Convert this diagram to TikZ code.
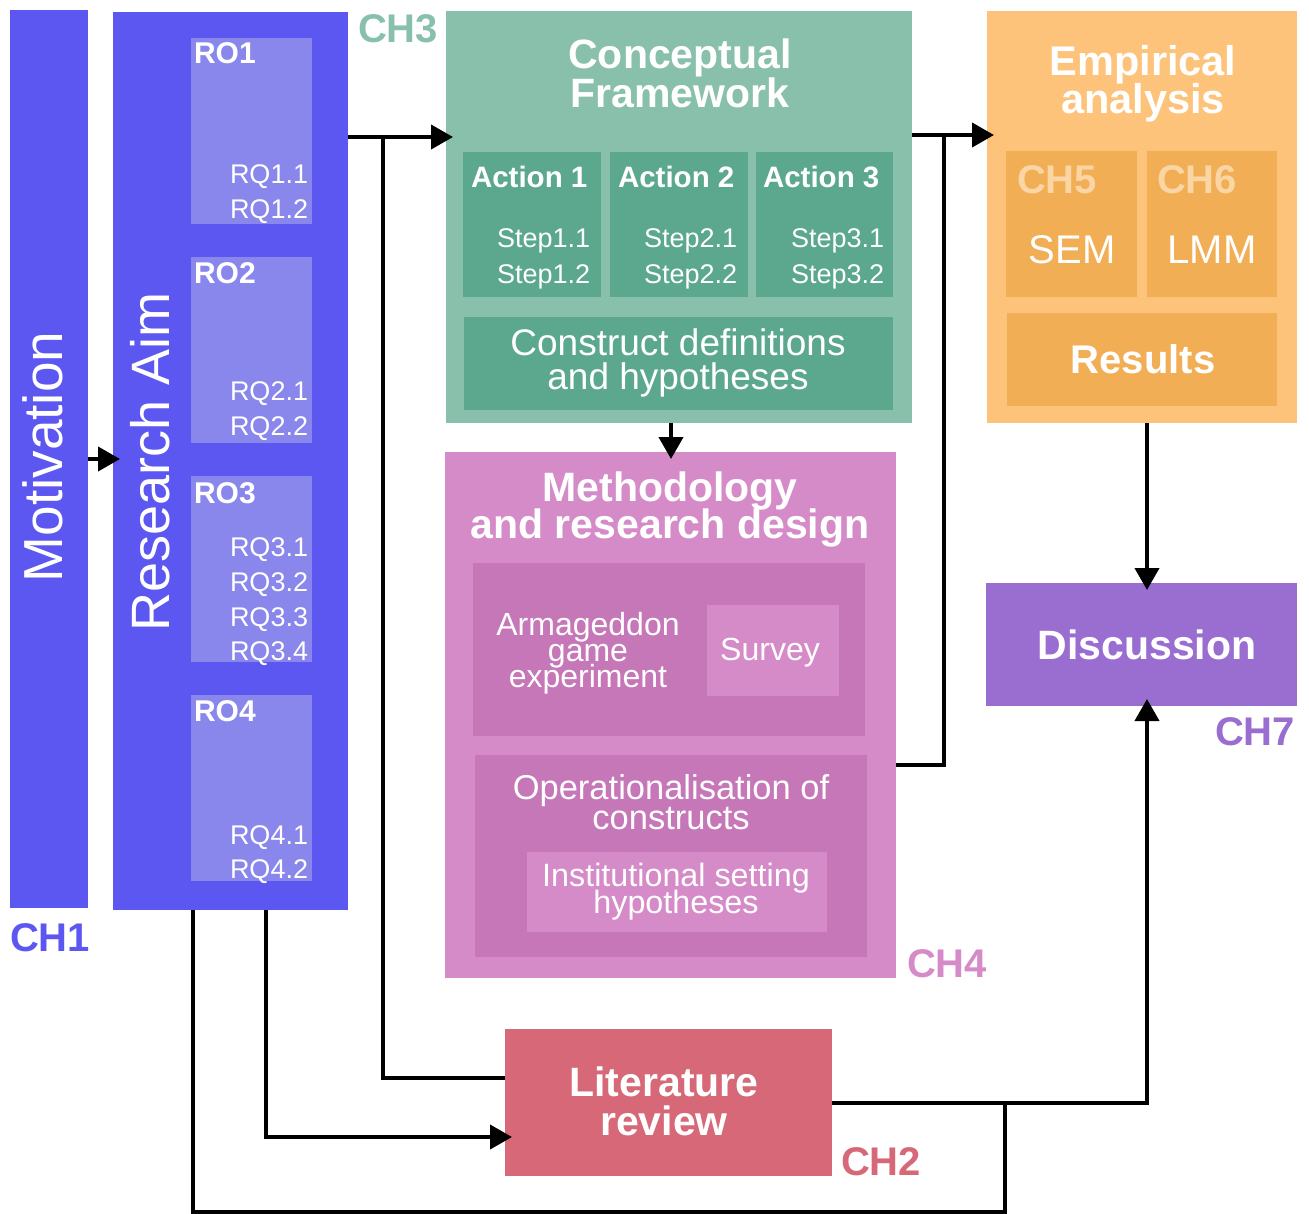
\documentclass[tikz,border=0pt]{standalone}
\usepackage{fontspec}
\setmainfont{Liberation Sans}
\usetikzlibrary{arrows.meta}
\definecolor{cblue}{HTML}{5B57F0}
\definecolor{cro}{HTML}{8A87EC}
\definecolor{ctealA}{HTML}{88C0AB}
\definecolor{ctealB}{HTML}{5BA88E}
\definecolor{corA}{HTML}{FEC37A}
\definecolor{corB}{HTML}{F2AE55}
\definecolor{corT}{HTML}{FAD6A5}
\definecolor{cpinkA}{HTML}{D68BC9}
\definecolor{cpinkB}{HTML}{C677B8}
\definecolor{cred}{HTML}{D66877}
\definecolor{cpurple}{HTML}{9A6DD0}
\newcommand\myfs[1]{\fontsize{#1}{#1}\selectfont}
\newcommand\mybox[6]{\node[box,fill=#2,minimum width={#5-#3},minimum height={#6-#4}] (#1) at (#3,#4) {};}
\begin{document}
\begin{tikzpicture}[x=1pt,y=-1pt,
  box/.style={rectangle,draw=none,inner sep=0pt,outer sep=0pt,anchor=north west},
  txt/.style={inner sep=0pt,outer sep=0pt,text=white},
  ttl/.style={txt,anchor=base,font=\bfseries\myfs{#1}},
  lbl/.style={txt,anchor=base west,font=\bfseries\myfs{#1}},
  reg/.style={txt,anchor=base west,font=\myfs{#1}},
  regc/.style={txt,anchor=base,font=\myfs{#1}},
  conn/.style={line width=4pt,black},
  arr/.style={conn,-{Triangle[length=22pt,width=24pt]},shorten >=-7pt}]
\useasboundingbox (0,0) rectangle (1309,1213);
% boxes
\mybox{mot}{cblue}{10}{10}{88}{908}
\mybox{ra}{cblue}{113}{12}{348}{910}
\mybox{ro1}{cro}{191}{38}{312}{224}
\mybox{ro2}{cro}{191}{257}{312}{443}
\mybox{ro3}{cro}{191}{476}{312}{662}
\mybox{ro4}{cro}{191}{695}{312}{881}
\mybox{cf}{ctealA}{446}{11}{912}{423}
\mybox{act1}{ctealB}{463}{152}{601}{297}
\mybox{act2}{ctealB}{610}{152}{748}{297}
\mybox{act3}{ctealB}{756}{152}{893}{297}
\mybox{cons}{ctealB}{464}{317}{893}{410}
\mybox{ea}{corA}{987}{11}{1297}{423}
\mybox{ch5}{corB}{1006}{151}{1137}{297}
\mybox{ch6}{corB}{1147}{151}{1277}{297}
\mybox{res}{corB}{1007}{313}{1277}{406}
\mybox{meth}{cpinkA}{445}{452}{896}{978}
\mybox{inA}{cpinkB}{473}{563}{865}{736}
\mybox{surv}{cpinkA}{707}{605}{839}{696}
\mybox{inB}{cpinkB}{475}{755}{867}{957}
\mybox{inst}{cpinkA}{527}{852}{827}{932}
\mybox{lit}{cred}{505}{1029}{832}{1176}
\mybox{disc}{cpurple}{986}{583}{1297}{706}
% texts
\node[txt,rotate=90,font=\myfs{55}] (tmot) at (43,457) {Motivation};
\node[txt,rotate=90,font=\myfs{54}] (tra) at (150,462) {Research Aim};
\node[lbl=30] (tro1) at (194,63) {RO1};
\node[reg=27] (q11) at (230,183) {RQ1.1};
\node[reg=27] (q12) at (230,218) {RQ1.2};
\node[lbl=30] (tro2) at (194,283) {RO2};
\node[reg=27] (q21) at (230,400) {RQ2.1};
\node[reg=27] (q22) at (230,435) {RQ2.2};
\node[lbl=30] (tro3) at (194,503) {RO3};
\node[reg=27] (q31) at (230,556) {RQ3.1};
\node[reg=27] (q32) at (230,591) {RQ3.2};
\node[reg=27] (q33) at (230,626) {RQ3.3};
\node[reg=27] (q34) at (230,660) {RQ3.4};
\node[lbl=30] (tro4) at (194,721) {RO4};
\node[reg=27] (q41) at (230,844) {RQ4.1};
\node[reg=27] (q42) at (230,878) {RQ4.2};
\node[lbl=40,text=cblue] (ch1) at (10,951) {CH1};
\node[lbl=40,text=ctealA] (ch3) at (358,42) {CH3};
\node[lbl=40,text=cpinkA] (ch4) at (907,977) {CH4};
\node[lbl=40,text=cred] (ch2) at (841,1175) {CH2};
\node[lbl=40,text=cpurple] (ch7) at (1215,745) {CH7};
\node[ttl=41] (tcf1) at (680,68) {Conceptual};
\node[ttl=41] (tcf2) at (680,107) {Framework};
\node[lbl=29.5] (ta1) at (471,187) {Action 1};
\node[lbl=29.5] (ta2) at (618,187) {Action 2};
\node[lbl=29.5] (ta3) at (763,187) {Action 3};
\node[reg=27] (s11) at (497,247) {Step1.1};
\node[reg=27] (s12) at (497,283) {Step1.2};
\node[reg=27] (s21) at (644,247) {Step2.1};
\node[reg=27] (s22) at (644,283) {Step2.2};
\node[reg=27] (s31) at (791,247) {Step3.1};
\node[reg=27] (s32) at (791,283) {Step3.2};
\node[regc=37] (tc1) at (678,355) {Construct definitions};
\node[regc=37] (tc2) at (678,389) {and hypotheses};
\node[ttl=41.5] (te1) at (1143,75) {Empirical};
\node[ttl=41.5] (te2) at (1143,113) {analysis};
\node[lbl=40,text=corT] (tch5) at (1017,193) {CH5};
\node[lbl=40,text=corT] (tch6) at (1157,193) {CH6};
\node[regc=40] (tsem) at (1072,263) {SEM};
\node[regc=40] (tlmm) at (1212,263) {LMM};
\node[ttl=40] (tres) at (1143,373) {Results};
\node[ttl=41] (tm1) at (670,501) {Methodology};
\node[ttl=41] (tm2) at (670,538) {and research design};
\node[regc=32] (tar1) at (588,635) {Armageddon};
\node[regc=32] (tar2) at (588,661) {game};
\node[regc=32] (tar3) at (588,687) {experiment};
\node[regc=32] (tsv) at (770,660) {Survey};
\node[regc=34.5] (top1) at (671,799) {Operationalisation of};
\node[regc=34.5] (top2) at (671,829) {constructs};
\node[regc=32.3] (tin1) at (676,886) {Institutional setting};
\node[regc=32.3] (tin2) at (676,913) {hypotheses};
\node[ttl=41] (tl1) at (664,1096) {Literature};
\node[ttl=41] (tl2) at (664,1135) {review};
\node[ttl=41] (tdi) at (1147,659) {Discussion};
% junction coordinates
\coordinate (j1) at (383,137);
\coordinate (j1b) at (383,1078);
\coordinate (j2) at (944,135);
\coordinate (j2b) at (944,765);
\coordinate (j3) at (671,440);
\coordinate (j4x) at (1147,500);
\coordinate (j4) at (1147,1103);
\coordinate (j5a) at (193,1212);
\coordinate (j5b) at (1005,1212);
\coordinate (j5c) at (1005,1103);
\coordinate (j6) at (266,1137);
% connectors
\draw[arr] (mot.east) -- (mot.east -| ra.west);
\draw[arr] (ra.east |- j1) -- (cf.west |- j1);
\draw[conn] (j1) -- (j1b) -- (lit.west |- j1b);
\draw[arr] (cf.east |- j2) -- (ea.west |- j2);
\draw[conn] (j2) -- (j2b) -- (meth.east |- j2b);
\draw[arr] (cf.south -| j3) -- (meth.north -| j3);
\draw[arr] (ea.south -| j4x) -- (disc.north -| j4x);
\draw[arr] (lit.east |- j4) -- (j4) -- (disc.south -| j4);
\draw[conn] (ra.south -| j5a) -- (j5a) -- (j5b) -- (j5c);
\draw[arr] (ra.south -| j6) -- (j6) -- (lit.west |- j6);
\end{tikzpicture}
\end{document}
